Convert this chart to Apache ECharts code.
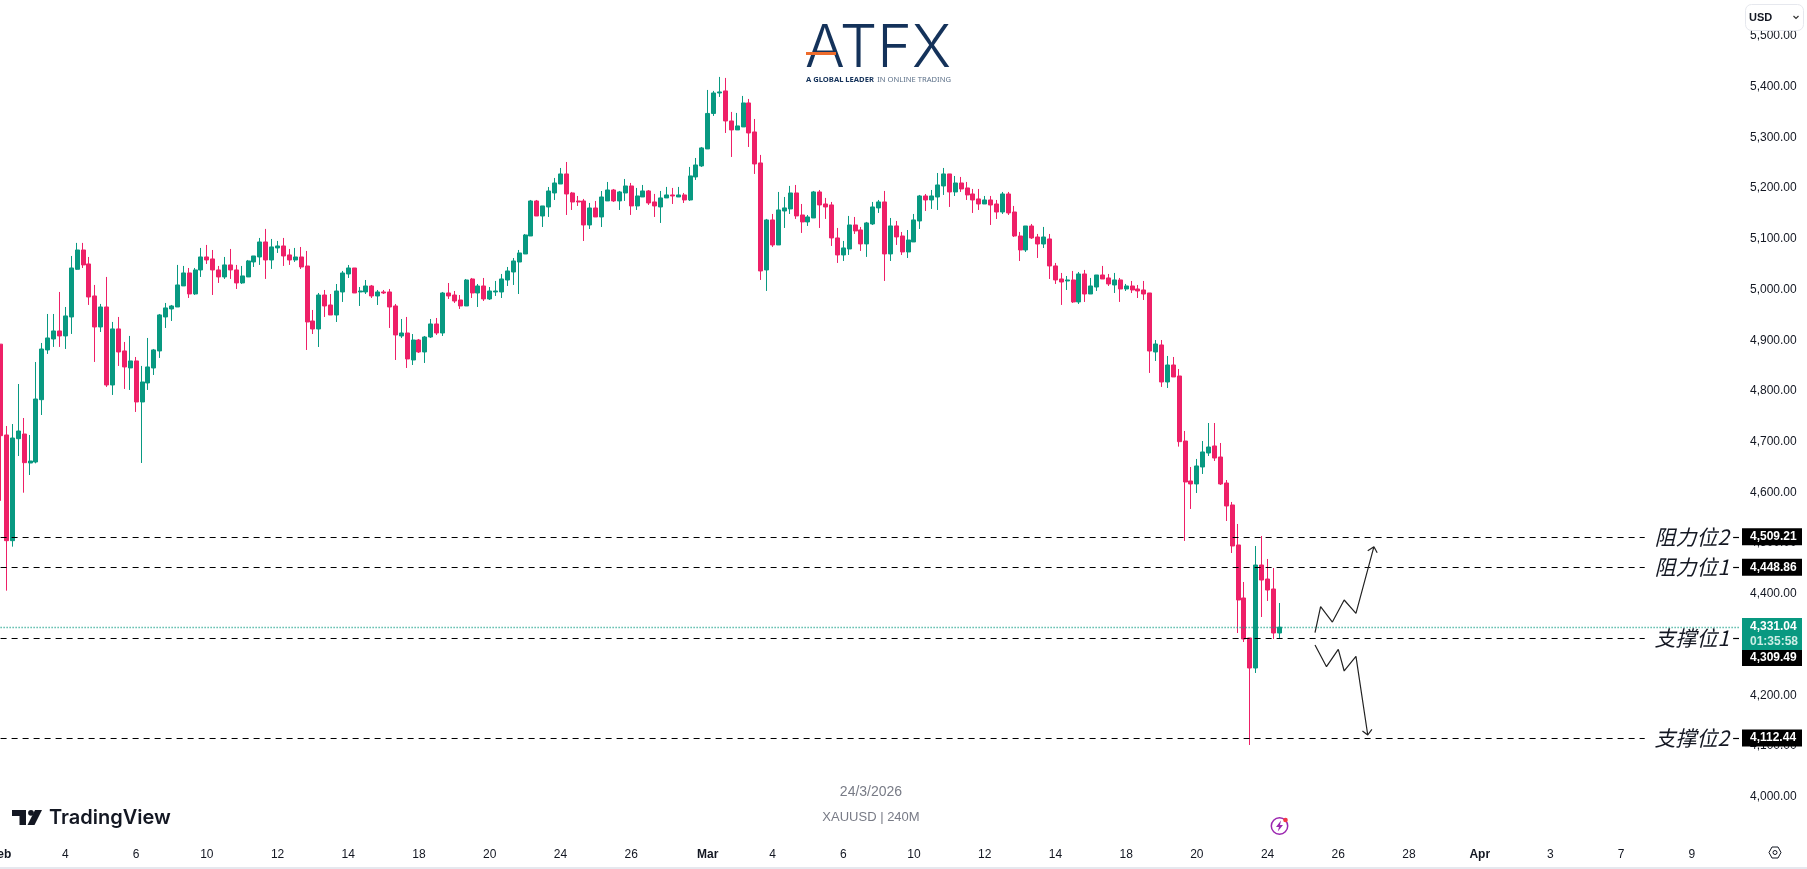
<!DOCTYPE html>
<html><head><meta charset="utf-8">
<style>html,body{margin:0;padding:0;background:#fff;overflow:hidden}#c{width:1807px;height:869px}</style>
<script src="https://cdn.jsdelivr.net/npm/echarts@6/dist/echarts.min.js"></script>
</head><body><div id="c"></div>
<script>
const opens=[
4889,4709.9,4501.5,4702.6,4711.8,4654.6,4656.6,4779.5,4877.6,4899.2,
4915,4905.2,4942.6,5036.6,5074.7,5047.1,4984,4922.9,4962.3,4808.5,
4919,4875.6,4842.1,4855.9,4775,4812.5,4842,4875.6,4942.6,4958.4,
4962.3,5003.8,5029.4,4988,5035.3,5060.9,5057,5035.3,5021.5,5045.2,
5035.3,5009.7,5021.5,5051.1,5060.9,5090.5,5055,5078.7,5082.6,5064.9,
5055,5060.9,5043.1,4934.7,4918.9,4985.9,4966.2,4946.5,4991.9,5027.4,
5039.2,4991.9,4991.9,5003.7,4984,4991.9,4991.9,4964.3,4905.1,4911,
4857.8,4897.2,4873.6,4903.1,4928.8,4911,4989.9,4985.9,4976.1,4964.3,
5017.5,4989.9,5003.7,4978.1,4991.9,4991.9,5015.5,5031.3,5051,5066.8,
5102.3,5171.3,5141.7,5159.5,5187.1,5204.8,5224.6,5187.1,5171.3,5171.3,
5124,5157.5,5139.8,5171.4,5193,5171.4,5187.1,5200.9,5161.5,5179.2,
5191.1,5169.4,5159.5,5177.3,5183.2,5179.2,5183.2,5173.3,5218.7,5240.4,
5273.9,5343.9,5384.3,5388.3,5329.1,5311.4,5317.3,5364.6,5307.4,5246.3,
5035.3,5133.9,5084.6,5151.6,5155.6,5187.1,5143.7,5130,5137.8,5189.1,
5165.4,5163.5,5098.4,5064.9,5076.7,5124,5114.2,5086.6,5126,5157.6,
5169.4,5066.9,5122.1,5102.3,5070.8,5090.5,5131.9,5181.2,5173.3,5179.2,
5200.9,5224.6,5189.1,5206.8,5197,5185.1,5175.3,5165.4,5173.3,5165.4,
5149.6,5185.1,5149.6,5102.3,5074.7,5122,5100.3,5086.5,5096.4,5043.2,
5017.5,5013.6,5015.6,4972.2,5027.4,4987.9,5001.7,5025.4,5019.5,5005.7,
5015.6,4997.8,5003.7,4997.8,4995.8,4989.9,4873.6,4887.4,4814.4,4847.9,
4826.2,4698,4619.2,4613.3,4646.8,4674.4,4688.2,4666.5,4615.2,4571.9,
4493,4388.5,4309.6,4250.4,4453.5,4425.9,4406.2,4319.4];
const closes=[
4708.5,4501.5,4703.9,4717.7,4655.3,4658.6,4780.8,4879.4,4901.2,4915,
4905.2,4944.6,5039.2,5074.7,5045.2,4982,4922.9,4962.3,4808.5,4919,
4873.6,4844,4855.9,4775,4814.4,4844,4877.6,4946.6,4960.4,4964.3,
5005.7,5029.4,4988,5035.3,5060.9,5055,5035.3,5021.5,5045.2,5035.3,
5009.7,5023.5,5053.1,5062.9,5090.5,5055,5080.7,5082.6,5062.9,5055,
5060.9,5041.2,4932.7,4918.9,4985.9,4964.3,4946.5,4993.8,5029.3,5039.2,
4989.9,4993.8,5003.7,4984,4991.9,4989.9,4962.3,4907.1,4911,4859.8,
4897.2,4873.6,4903.1,4928.8,4911,4989.9,4984,4974.1,4964.3,5015.5,
4989.9,5003.7,4978.1,4993.8,4993.8,5017.5,5033.3,5053,5068.8,5104.3,
5171.3,5141.7,5161.5,5191,5206.8,5224.6,5185.1,5169.3,5169.3,5124,
5157.5,5139.8,5179.2,5193,5171.4,5189.1,5200.9,5161.5,5181.2,5191.1,
5167.4,5161.5,5177.3,5183.2,5181.2,5183.2,5173.3,5220.7,5242.3,5275.9,
5343.9,5384.3,5386.3,5329.1,5311.4,5319.3,5364.6,5305.4,5244.3,5033.3,
5133.9,5084.6,5153.6,5157.6,5187.1,5141.8,5130,5139.8,5189.1,5163.5,
5159.5,5098.4,5064.9,5078.7,5124,5112.2,5086.6,5128,5159.5,5169.4,
5066.9,5122.1,5100.4,5070.8,5094.4,5133.9,5181.2,5173.3,5181.2,5202.9,
5224.6,5189.1,5206.8,5195,5183.2,5173.3,5165.4,5173.3,5163.4,5149.6,
5185.1,5147.7,5102.3,5074.7,5122,5098.4,5086.5,5100.3,5043.2,5015.6,
5011.6,5015.6,4972.2,5027.4,4987.9,5003.7,5025.4,5017.5,5007.7,5015.6,
4997.8,5003.7,4995.8,4993.9,4987.9,4875.5,4889.3,4814.4,4847.9,4824.3,
4696.7,4617.2,4613.3,4648.8,4676.4,4686.2,4664.5,4613.3,4569.9,4491,
4384.5,4307.6,4250.4,4453.5,4423.9,4404.2,4319.4,4331.04];
const highs=[
4889,4727.6,4731.5,4810.4,4743.4,4709.9,4853.8,4891.3,4948.5,4948.5,
4991.9,4962.3,5062.9,5088.6,5088.6,5060.9,5005.7,4968.3,5021.5,4932.8,
4942.6,4893.3,4905.2,4863.7,4846,4901.2,4879.5,4948.5,4970.2,4966.3,
5045.2,5043.2,5039.2,5039.2,5078.7,5084.6,5074.7,5043.2,5060.9,5076.7,
5045.2,5043.2,5055,5062.9,5098.4,5116.2,5096.4,5092.5,5098.4,5076.7,
5078.7,5080.6,5072.7,4956.4,4989.9,4995.8,4987.9,5007.6,5033.3,5045.1,
5039.2,5001.7,5015.5,5005.7,4995.8,4995.8,4997.8,4968.2,4938.6,4942.6,
4909,4899.2,4905.1,4938.6,4940.6,4991.9,5009.6,4993.8,4985.9,5017.5,
5019.5,5007.6,5019.5,5001.7,5013.6,5027.4,5041.2,5058.9,5074.7,5106.2,
5173.3,5173.3,5161.5,5198.9,5216.7,5236.4,5248.2,5189.1,5181.2,5175.3,
5167.4,5171.3,5191,5208.8,5195,5191.1,5214.7,5206.9,5197,5202.9,
5193,5185.2,5191.1,5199,5197,5199,5187.1,5238.4,5256.1,5277.8,
5390.2,5388.3,5415.9,5413.9,5346.9,5344.9,5378.4,5372.5,5333,5262.1,
5135.9,5145.7,5189.1,5179.2,5201,5202.9,5165.4,5143.7,5191.1,5193,
5177.3,5169.4,5118.1,5092.5,5141.8,5139.8,5120.1,5130,5169.4,5173.3,
5191.1,5137.8,5131.9,5110.2,5114.1,5145.7,5183.2,5185.1,5193,5226.5,
5236.4,5224.6,5220.6,5218.7,5208.8,5195,5195,5181.2,5181.2,5173.3,
5189.1,5189.1,5161.5,5110.2,5122,5126,5106.3,5120.1,5106.3,5049.1,
5029.4,5023.4,5033.3,5031.3,5035.3,5019.5,5025.4,5043.2,5027.4,5029.4,
5019.5,5007.7,5013.6,5005.7,5013.6,4989.9,4897.2,4897.2,4865.7,4863.7,
4840,4717.8,4646.8,4662.6,4698,4733.5,4733.5,4694.1,4621.1,4577.8,
4534.4,4420,4309.6,4491,4510.7,4465.4,4447.6,4378.6];
const lows=[
4580,4402.9,4489.7,4668.4,4596.1,4631,4654,4749.3,4869.7,4883.5,
4883.5,4879.5,4909.1,5035.3,5039.2,4966.3,4853.9,4913,4804.6,4788.8,
4846,4800.6,4798.7,4755.3,4654.7,4798.7,4828.2,4861.8,4920.9,4934.7,
4962.3,5003.8,4980.1,4986,5021.5,5047.1,4986,5009.7,5017.6,5017.6,
4997.8,5007.7,5021.5,5041.2,5045.2,5017.6,5037.3,5068.8,5043.2,5045.2,
5051.1,5037.2,4877.5,4909,4883.4,4942.6,4946.5,4932.7,4972.2,5019.5,
4989.9,4964.3,4987.9,4980,4966.2,4987.9,4920.9,4857.8,4901.2,4842,
4847.9,4871.6,4851.9,4901.2,4907.1,4905.1,4978.1,4970.2,4958.4,4964.3,
4980,4962.3,4974.1,4976.1,4984,4980,5003.7,5005.7,4987.9,5066.8,
5102.3,5141.7,5120,5139.8,5173.3,5204.8,5143.7,5153.6,5161.5,5092.4,
5116.1,5139.8,5120,5171.4,5169.4,5153.6,5171.4,5143.8,5153.6,5179.2,
5163.5,5139.8,5128,5177.3,5165.4,5179.2,5167.4,5171.4,5212.8,5238.4,
5273.9,5339,5376.4,5305.4,5258.1,5311.4,5317.3,5277.8,5224.6,5015.6,
4993.9,5080.7,5084.6,5118.1,5145.7,5135.9,5108.3,5122.1,5137.8,5118.1,
5135.9,5082.6,5049.1,5053,5064.9,5106.3,5072.8,5061,5124,5147.7,
5013.6,5053,5084.6,5064.8,5058.9,5090.5,5116.1,5151.6,5155.6,5153.6,
5183.2,5159.5,5181.2,5189.1,5173.3,5147.7,5153.6,5165.4,5124,5135.8,
5145.7,5143.7,5100.3,5053,5070.8,5096.4,5058.9,5078.6,5017.5,5007.7,
4966.3,4995.8,4970.2,4968.2,4972.2,4987.9,4993.9,5017.5,5003.7,4989.9,
4972.2,4993.9,4989.9,4980,4976.1,4832.2,4855.8,4804.6,4802.6,4824.3,
4686.9,4500.9,4564,4595.5,4633,4668.5,4658.6,4611.3,4540.3,4477.2,
4319.4,4301.7,4098.6,4240.6,4351,4382.6,4307.6,4307.6];

const tickIndex=[0,11,23,35,47,59,71,83,95,107,120,131,143,155,167,179,191,203,215,227,239,251,263,275,287];
const tickText=['Feb','4','6','10','12','14','18','20','24','26','Mar','4','6','10','12','14','18','20','24','26','28','Apr','3','7','9'];
const monthNames=['Feb','Mar','Apr'];
const priceTicks=[4000,4100,4200,4300,4400,4500,4600,4700,4800,4900,5000,5100,5200,5300,5400,5500];
const levelValues=[4509.21,4448.86,4309.49,4112.44];
const levelNames=['阻力位2','阻力位1','支撑位1','支撑位2'];
const lastPrice=4331.04, countdown='01:35:58';
const upPath=[[223.05,4320],[224,4371.3],[226,4341],[228,4384.5],[230,4358.2],[233.05,4489.6],[232,4481.7],[233.05,4489.6],[233.6,4477.8]];
const downPath=[[223.05,4295.8],[225,4253],[227,4287.2],[228,4244.5],[230,4273.5],[232,4118.3],[231.1,4126.2],[232,4118.3],[232.7,4129.5]];

const TEAL='#089981',PINK='#ee2067',LAST=295;
const slotCount=LAST+1, slots=[];
for(let i=0;i<slotCount;i++){const k=tickIndex.indexOf(i);slots.push(k<0?'':tickText[k]);}
const fmt=v=>v.toLocaleString('en-US',{minimumFractionDigits:2,maximumFractionDigits:2});
const candles=opens.map((o,i)=>[o,closes[i],lows[i],highs[i]]);
const font='"Liberation Sans",Arial,sans-serif';

const lineData=[];
levelValues.forEach(v=>{
  lineData.push([{xAxis:0,yAxis:v},{xAxis:279,yAxis:v}]);
  lineData.push([{xAxis:294,yAxis:v},{xAxis:LAST,yAxis:v}]);
});
lineData.push([{xAxis:0,yAxis:lastPrice,lineStyle:{color:TEAL,type:[1,2],width:1.4}},{xAxis:LAST,yAxis:lastPrice}]);

const tagBase={show:true,position:'right',distance:3,align:'left',verticalAlign:'middle',fontFamily:font,fontSize:12,fontWeight:'bold',color:'#fff',backgroundColor:'#000',width:52,height:17,lineHeight:17,padding:[0,0,0,8]};
const pts=[];
levelValues.forEach((v,i)=>{
  pts.push({coord:[287,v],symbol:'rect',symbolSize:0,label:{show:true,position:'inside',formatter:levelNames[i],fontFamily:'"Noto Sans CJK TC"',fontStyle:'italic',fontSize:21,color:'#131722'}});
  const t={...tagBase,formatter:fmt(v)};
  if(v===4309.49)t.offset=[0,19.5];
  pts.push({coord:[LAST,v],symbol:'rect',symbolSize:0,label:t});
});
pts.push({coord:[LAST,lastPrice],symbol:'rect',symbolSize:0,label:{show:true,position:'right',distance:3,align:'left',verticalAlign:'middle',offset:[0,7],backgroundColor:TEAL,padding:[1,0,1,8],width:52,
  formatter:'{a|'+fmt(lastPrice)+'}\n{b|'+countdown+'}',
  rich:{a:{fontFamily:font,fontSize:12,fontWeight:'bold',color:'#fff',lineHeight:15},b:{fontFamily:font,fontSize:12,fontWeight:'bold',color:'#cdeee6',lineHeight:15}}}});

const arrow=d=>({type:'line',xAxisIndex:1,yAxisIndex:0,data:d,showSymbol:false,symbol:'none',silent:true,lineStyle:{color:'#222',width:1.2},z:6,animation:false});

const chart=echarts.init(document.getElementById('c'),null,{width:1807,height:869});
chart.setOption({
  animation:false,backgroundColor:'#fff',
  grid:{left:0.6,top:0,width:1738.4,height:838,containLabel:false,outerBoundsMode:'none'},
  xAxis:[{type:'category',data:slots,boundaryGap:false,axisLine:{show:false},axisTick:{show:false},splitLine:{show:false},
    axisLabel:{interval:(i)=>tickIndex.indexOf(i)>=0,margin:11,fontFamily:font,fontSize:12,color:'#131722',hideOverlap:false,showMinLabel:true,
      formatter:(v)=>monthNames.includes(v)?'{m|'+v+'}':v,rich:{m:{fontFamily:font,fontSize:12,fontWeight:'bold',color:'#131722'}}}},
    {type:'value',min:0,max:LAST,show:false}],
  yAxis:{type:'value',position:'right',min:3915.2,max:5567.6,scale:true,axisLine:{show:false},axisTick:{show:false},splitLine:{show:false},
    axisLabel:{customValues:priceTicks,formatter:fmt,margin:11,verticalAlign:'top',lineHeight:3.4,fontFamily:font,fontSize:12,color:'#131722'}},
  series:[
   {type:'candlestick',xAxisIndex:0,yAxisIndex:0,data:candles,barWidth:4.5,clip:false,
    itemStyle:{color:TEAL,color0:PINK,borderColor:TEAL,borderColor0:PINK,borderWidth:1},silent:true,
    markLine:{silent:true,symbol:'none',animation:false,label:{show:false},lineStyle:{color:'#000',type:[6,5],width:1.2},data:lineData},
    markPoint:{silent:true,animation:false,data:pts,z:8}},
   arrow(upPath),arrow(downPath)
  ],
  graphic:[
   {type:'text',z:50,x:805,y:20,style:{text:'ATFX',fontFamily:'Inter,"Liberation Sans"',fontWeight:300,fontSize:59,fill:'#14325a'}},
   {type:'rect',z:51,shape:{x:806,y:52,width:30,height:3},style:{fill:'#ee6c2c'}},
   {type:'text',z:50,x:806,y:74,style:{text:'{a|A GLOBAL LEADER} {b|IN ONLINE TRADING}',rich:{a:{fontFamily:'"Noto Sans"',fontSize:7.6,fontWeight:'bold',fill:'#14325a'},b:{fontFamily:'"Noto Sans"',fontSize:7.6,fill:'#5d7189'}}}},
   {type:'text',z:50,x:871,y:792,style:{text:'24/3/2026',align:'center',verticalAlign:'middle',fontFamily:font,fontSize:14,fill:'#787b86'}},
   {type:'text',z:50,x:871,y:817,style:{text:'XAUUSD | 240M',align:'center',verticalAlign:'middle',fontFamily:font,fontSize:13,fill:'#787b86'}},
   {type:'polygon',z:50,shape:{points:[[12,810],[26,810],[26,825],[19.5,825],[19.5,816],[12,816]]},style:{fill:'#131722'}},
   {type:'circle',z:50,shape:{cx:31,cy:812.8,r:2.9},style:{fill:'#131722'}},
   {type:'polygon',z:50,shape:{points:[[35,810],[42,810],[34.5,825],[27.5,825]]},style:{fill:'#131722'}},
   {type:'text',z:50,x:49,y:818,style:{text:'TradingView',verticalAlign:'middle',fontFamily:'Inter,"Liberation Sans"',fontWeight:600,fontSize:20,fill:'#131722'}},
   {type:'rect',z:60,shape:{x:1745.5,y:4.5,width:58,height:26,r:6},style:{fill:'#fff',stroke:'#e6e8ee',lineWidth:1}},
   {type:'text',z:61,x:1749,y:17.5,style:{text:'USD',verticalAlign:'middle',fontFamily:font,fontWeight:'bold',fontSize:11,fill:'#131722'}},
   {type:'polyline',z:61,shape:{points:[[1793.5,16],[1796,18.5],[1798.5,16]]},style:{stroke:'#333',lineWidth:1.2,fill:'none'}},
   {type:'circle',z:50,shape:{cx:1279.5,cy:826,r:8.2},style:{fill:'none',stroke:'#9c27b0',lineWidth:1.5}},
   {type:'polygon',z:51,shape:{points:[[1281,820.5],[1276,827],[1279,827],[1277.8,831.5],[1283,825],[1280,825]]},style:{fill:'#9c27b0'}},
   {type:'circle',z:52,shape:{cx:1285.5,cy:820,r:2.3},style:{fill:'#f23645'}},
   {type:'polygon',z:50,shape:{points:[[1769,852.5],[1772,847],[1778,847],[1781,852.5],[1778,858],[1772,858]]},style:{fill:'none',stroke:'#131722',lineWidth:1}},
   {type:'circle',z:50,shape:{cx:1775,cy:852.5,r:2},style:{fill:'none',stroke:'#131722',lineWidth:1}},
   {type:'rect',z:40,shape:{x:0,y:867,width:1807,height:2},style:{fill:'#e6e8ee'}}
  ]
});
</script></body></html>
